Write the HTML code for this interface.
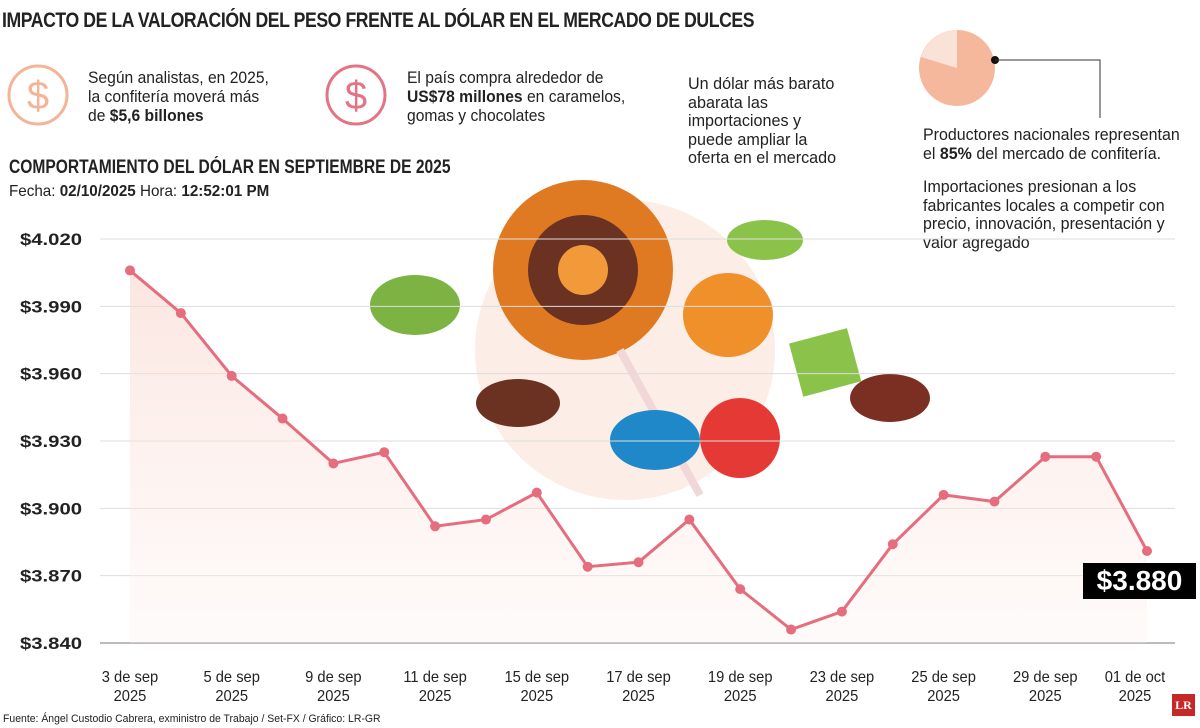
<!DOCTYPE html>
<html><head><meta charset="utf-8">
<style>
body{margin:0;width:1200px;height:728px;background:#fff;overflow:hidden;font-family:"Liberation Sans Narrow","Liberation Sans",sans-serif;color:#222;position:relative}
.t{position:absolute;white-space:nowrap;transform-origin:0 0}
</style></head><body>
<div class="t" style="left:2px;top:9px;font-size:21px;font-weight:bold;letter-spacing:-0.5px;transform:scaleX(0.84)">IMPACTO DE LA VALORACIÓN DEL PESO FRENTE AL DÓLAR EN EL MERCADO DE DULCES</div>
<svg class="t" style="left:0;top:0" width="1200" height="728">
<circle cx="38" cy="95" r="29" fill="none" stroke="#f4b497" stroke-width="3"/>
<text x="38" y="109" font-size="40" fill="#f4b497" text-anchor="middle" font-family="Liberation Sans">$</text>
<circle cx="356" cy="95" r="29" fill="none" stroke="#e57386" stroke-width="3"/>
<text x="356" y="109" font-size="40" fill="#e57386" text-anchor="middle" font-family="Liberation Sans">$</text>
<circle cx="957" cy="68" r="38" fill="#f6b89c"/>
<path d="M957,68 L957,30 A38,38 0 0,0 921,57 Z" fill="#fbe2d6"/>
<circle cx="995" cy="60" r="4" fill="#111"/>
<polyline points="995,60 1100,60 1100,118" fill="none" stroke="#333" stroke-width="1"/>
<circle cx="625" cy="350" r="150" fill="#fbe6dc" opacity="0.7"/>
<circle cx="583" cy="270" r="90" fill="#e07a22"/>
<circle cx="583" cy="270" r="55" fill="#6b3222"/>
<circle cx="583" cy="270" r="25" fill="#f29a3a"/>
<line x1="620" y1="350" x2="700" y2="495" stroke="#f1d7d7" stroke-width="8"/>
<ellipse cx="415" cy="305" rx="45" ry="30" fill="#7cb342"/>
<ellipse cx="728" cy="315" rx="45" ry="42" fill="#f0902a"/>
<ellipse cx="765" cy="240" rx="38" ry="20" fill="#8bc34a"/>
<rect x="795" y="335" width="60" height="55" fill="#8bc34a" transform="rotate(-15 825 362)"/>
<ellipse cx="890" cy="398" rx="40" ry="24" fill="#7a2f22"/>
<ellipse cx="518" cy="403" rx="42" ry="24" fill="#6b3222"/>
<circle cx="740" cy="438" r="40" fill="#e53935"/>
<ellipse cx="655" cy="440" rx="45" ry="30" fill="#1e88c8"/>
</svg>
<div class="t" style="left:88px;top:68px;font-size:17px;line-height:19px;transform:scaleX(0.92)">Según analistas, en 2025,<br>la confitería moverá más<br>de <b>$5,6 billones</b></div>
<div class="t" style="left:407px;top:68px;font-size:17px;line-height:19px;transform:scaleX(0.92)">El país compra alrededor de<br><b>US$78 millones</b> en caramelos,<br>gomas y chocolates</div>
<div class="t" style="left:688px;top:75px;font-size:17px;line-height:18.5px;transform:scaleX(0.95)">Un dólar más barato<br>abarata las<br>importaciones y<br>puede ampliar la<br>oferta en el mercado</div>
<div class="t" style="left:923px;top:126px;font-size:17px;line-height:18.5px;transform:scaleX(0.94)">Productores nacionales representan<br>el <b>85%</b> del mercado de confitería.</div>
<div class="t" style="left:923px;top:178px;font-size:17px;line-height:18.5px;transform:scaleX(0.94)">Importaciones presionan a los<br>fabricantes locales a competir con<br>precio, innovación, presentación y<br>valor agregado</div>
<div class="t" style="left:9px;top:157px;font-size:19px;font-weight:bold;transform:scaleX(0.82)">COMPORTAMIENTO DEL DÓLAR EN SEPTIEMBRE DE 2025</div>
<div class="t" style="left:9px;top:183px;font-size:16px;transform:scaleX(0.95)">Fecha: <b>02/10/2025</b> Hora: <b>12:52:01 PM</b></div>
<svg id="chart" class="t" style="left:0;top:0" width="1200" height="728"></svg>
<div class="t" style="left:1083px;top:563px;width:113px;height:36px;background:#000;color:#fff;font-size:28px;font-weight:bold;text-align:center;line-height:36px">$3.880</div>
<div class="t" style="left:3px;top:713px;font-size:11px;transform:scaleX(0.95)">Fuente: Ángel Custodio Cabrera, exministro de Trabajo / Set-FX / Gráfico: LR-GR</div>
<div class="t" style="left:1172px;top:694px;width:23px;height:22px;background:#c62828;color:#fff;font:bold 12px 'Liberation Serif',serif;text-align:center;line-height:22px">LR</div>
<script>
const dates=["3 de sep","4 de sep","5 de sep","8 de sep","9 de sep","10 de sep","11 de sep","12 de sep","15 de sep","16 de sep","17 de sep","18 de sep","19 de sep","22 de sep","23 de sep","24 de sep","25 de sep","26 de sep","29 de sep","30 de sep","01 de oct"];
const values=[4006,3987,3959,3940,3920,3925,3892,3895,3907,3874,3876,3895,3864,3846,3854,3884,3906,3903,3923,3923,3881];
const yTicks=[3840,3870,3900,3930,3960,3990,4020];
const svg=document.getElementById('chart');const NS='http://www.w3.org/2000/svg';
const x=i=>130+i*(1147-130)/(dates.length-1);
const y=v=>643-(v-3840)*(643-239)/180;
function mk(t,a){const e=document.createElementNS(NS,t);for(const k in a)e.setAttribute(k,a[k]);svg.appendChild(e);return e;}
const defs=mk('defs',{});defs.innerHTML='<linearGradient id="g" x1="0" y1="0" x2="0" y2="1"><stop offset="0" stop-color="#f8d5cc" stop-opacity="0.6"/><stop offset="1" stop-color="#fdf0ec" stop-opacity="0.3"/></linearGradient>';
yTicks.forEach((t,i)=>{
 const l=mk('line',{x1:100,x2:1175,y1:y(t),y2:y(t),stroke:i==0?'#777':'#ddd','stroke-width':1});
 
 
 const tx=mk('text',{x:20,y:y(t)+6,'font-size':17,'font-weight':'bold','font-family':'Liberation Sans Narrow, Liberation Sans, sans-serif',fill:'#222',textLength:62,lengthAdjust:'spacingAndGlyphs'});
 tx.textContent='$'+(t/1000).toFixed(3);
 
 
});
let d='';values.forEach((v,i)=>{d+=(i?'L':'M')+x(i)+','+y(v);});
const area=mk('path',{d:d+'L'+x(values.length-1)+',643L'+x(0)+',643Z',fill:'url(#g)'});


const ln=mk('path',{d:d,fill:'none',stroke:'#e56d7e','stroke-width':3,'stroke-linejoin':'round'});


values.forEach((v,i)=>{const c=mk('circle',{cx:x(i),cy:y(v),r:5,fill:'#e56d7e'});
 
 });
dates.forEach((dt,i)=>{if(i%2)return;
 const cx=i==dates.length-1?x(i)-12:x(i);
 [dt,'2025'].forEach((s,k)=>{const t=mk('text',{x:cx,y:682+k*19,'font-size':16,'text-anchor':'middle','font-family':'Liberation Sans Narrow, Liberation Sans, sans-serif',fill:'#222',transform:'translate('+cx+',0) scale(0.92,1) translate('+(-cx)+',0)'});t.textContent=s;
 
 });
});
</script>
</body></html>
